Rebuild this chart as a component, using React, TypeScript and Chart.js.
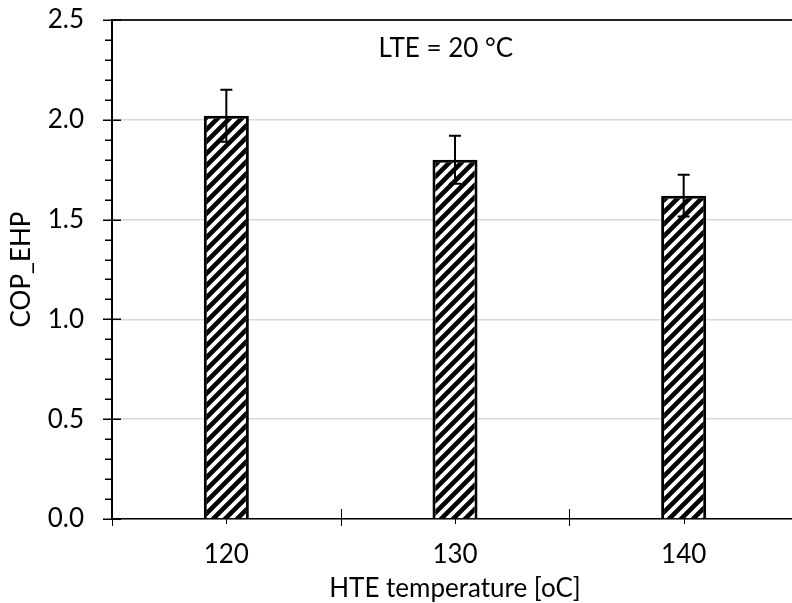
import React, { useEffect, useRef } from "react";
import { Chart, registerables } from "chart.js";

Chart.register(...registerables);

const categories = ["120", "130", "140"];
const copValues = [2.02, 1.8, 1.62];
const copErrors = [0.13, 0.12, 0.105];
const yMin = 0;
const yMax = 2.5;
const yStep = 0.5;
const xTitle = "HTE temperature [oC]";
const yTitle = "COP_EHP";
const noteText = "LTE = 20 °C";
const noteAt = { x: 0.96, y: 2.355 };

const FONT = "Lato, 'Open Sans', sans-serif";
const FONT_SIZE = 26;

function makeHatch(): CanvasPattern | string {
  const s = 12;
  const c = document.createElement("canvas");
  c.width = s;
  c.height = s;
  const g = c.getContext("2d");
  if (!g) return "#ffffff";
  g.fillStyle = "#ffffff";
  g.fillRect(0, 0, s, s);
  g.strokeStyle = "#000000";
  g.lineWidth = 4.6;
  g.lineCap = "square";
  g.beginPath();
  g.moveTo(0, s);
  g.lineTo(s, 0);
  g.moveTo(-2, 2);
  g.lineTo(2, -2);
  g.moveTo(s - 2, s + 2);
  g.lineTo(s + 2, s - 2);
  g.stroke();
  const p = g.createPattern(c, "repeat");
  return p || "#ffffff";
}

const decorPlugin = {
  id: "decor",
  afterDatasetsDraw(chart: any) {
    const { ctx } = chart;
    const xs = chart.scales.x;
    const ys = chart.scales.y;
    ctx.save();
    ctx.strokeStyle = "#000";
    // error bars
    ctx.lineWidth = 2;
    for (let i = 0; i < copValues.length; i++) {
      const x = xs.getPixelForValue(i);
      const yt = ys.getPixelForValue(copValues[i] + copErrors[i]);
      const yb = ys.getPixelForValue(copValues[i] - copErrors[i]);
      ctx.beginPath();
      ctx.moveTo(x, yt);
      ctx.lineTo(x, yb);
      ctx.moveTo(x - 6, yt);
      ctx.lineTo(x + 6, yt);
      ctx.moveTo(x - 6, yb);
      ctx.lineTo(x + 6, yb);
      ctx.stroke();
    }
    // y ticks
    const ax = ys.right;
    ctx.lineWidth = 1.5;
    const n = Math.round((yMax - yMin) / 0.1);
    for (let i = 0; i <= n; i++) {
      const v = yMin + i * 0.1;
      const y = Math.round(ys.getPixelForValue(v)) + 0.25;
      ctx.beginPath();
      if (i % 5 === 0) {
        ctx.moveTo(ax - 9, y);
        ctx.lineTo(ax + 9, y);
      } else {
        ctx.moveTo(ax - 7, y);
        ctx.lineTo(ax, y);
      }
      ctx.stroke();
    }
    // x ticks
    const ay = xs.top;
    ctx.lineWidth = 1;
    for (let i = 0; i <= categories.length; i++) {
      const x = Math.round(xs.getPixelForValue(i - 0.5)) + 0.5;
      ctx.beginPath();
      ctx.moveTo(x, ay - 10);
      ctx.lineTo(x, ay + 7);
      ctx.stroke();
    }
    for (let i = 0; i < categories.length; i++) {
      const x = Math.round(xs.getPixelForValue(i)) + 0.5;
      ctx.beginPath();
      ctx.moveTo(x, ay);
      ctx.lineTo(x, ay + 5);
      ctx.stroke();
    }
    // note
    ctx.fillStyle = "#000";
    ctx.font = `${FONT_SIZE}px ${FONT}`;
    ctx.textAlign = "center";
    ctx.textBaseline = "middle";
    ctx.fillText(noteText, xs.getPixelForValue(noteAt.x), ys.getPixelForValue(noteAt.y));
    ctx.restore();
  },
};

export default function App() {
  const ref = useRef<HTMLCanvasElement | null>(null);
  useEffect(() => {
    if (!ref.current) return;
    const hatch = makeHatch();
    const chart = new Chart(ref.current, {
      type: "bar",
      data: {
        labels: categories,
        datasets: [
          {
            data: copValues,
            backgroundColor: hatch as any,
            borderColor: "#000",
            borderWidth: 3,
            barPercentage: 0.197,
            categoryPercentage: 1,
          },
        ],
      },
      options: {
        responsive: false,
        animation: false,
        devicePixelRatio: 1,
        layout: { padding: { top: 20, left: 0, right: 0, bottom: 0 } },
        plugins: { legend: { display: false }, tooltip: { enabled: false } },
        scales: {
          x: {
            type: "category",
            offset: true,
            grid: { display: false, drawTicks: false, offset: true },
            border: { display: true, color: "#000", width: 1.5 },
            ticks: { color: "#000", padding: 20, font: { family: FONT, size: FONT_SIZE } },
            title: {
              display: true,
              text: xTitle,
              color: "#000",
              font: { family: FONT, size: FONT_SIZE, lineHeight: 1 },
              padding: { top: 0, bottom: 1 },
            },
            afterFit: (s: any) => {
              s.height = 84;
            },
          },
          y: {
            min: yMin,
            max: yMax,
            ticks: {
              stepSize: yStep,
              color: "#000",
              padding: 0,
              font: { family: FONT, size: FONT_SIZE },
              callback: (v: any) => Number(v).toFixed(1),
            },
            grid: {
              drawTicks: true,
              tickLength: 28,
              tickColor: "rgba(0,0,0,0)",
              lineWidth: (c: any) => (c.tick && c.tick.value === yMax ? 2 : 1.5),
              color: (c: any) => (c.tick && c.tick.value === yMax ? "#222" : "#d9d9d9"),
            },
            border: { display: true, color: "#000", width: 2 },
            title: {
              display: true,
              text: yTitle,
              color: "#000",
              font: { family: FONT, size: FONT_SIZE },
              padding: { top: 6, bottom: 0 },
            },
            afterFit: (s: any) => {
              s.width = 112;
            },
          },
        },
      },
      plugins: [decorPlugin],
    });
    return () => chart.destroy();
  }, []);
  return (
    <div style={{ position: "fixed", left: 0, top: 0, width: 792, height: 603, overflow: "hidden", background: "#fff" }}>
      <canvas ref={ref} width={798} height={603} style={{ display: "block", width: 798, height: 603 }} />
    </div>
  );
}
